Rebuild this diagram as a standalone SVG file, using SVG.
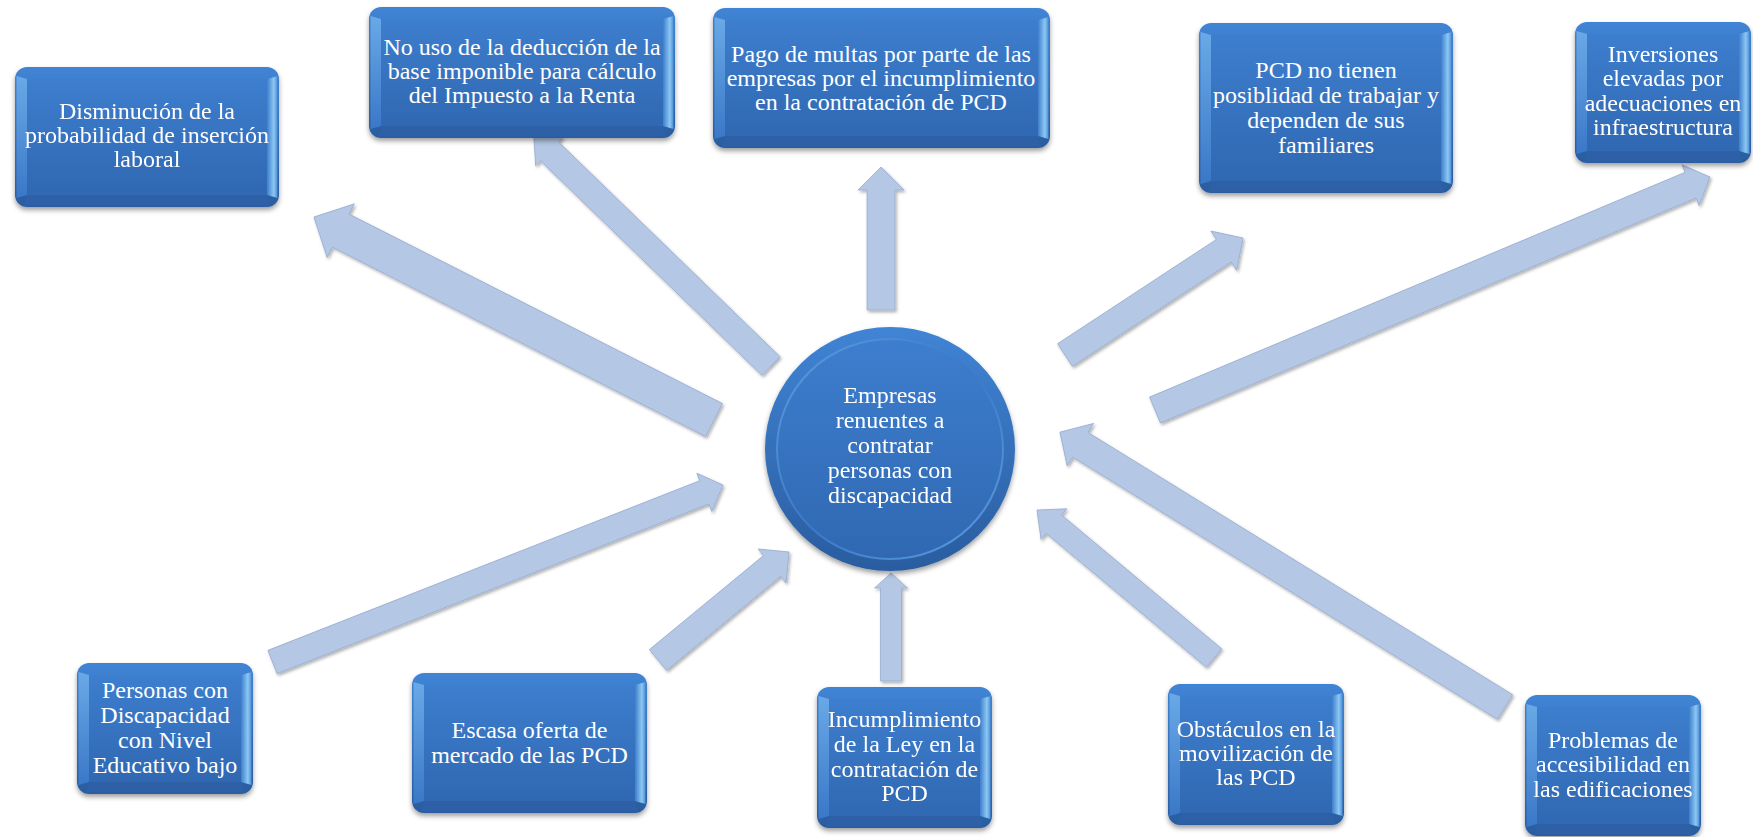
<svg xmlns="http://www.w3.org/2000/svg" width="1753" height="837" viewBox="0 0 1753 837">
<defs>
<linearGradient id="gOut" x1="0" y1="0" x2="0" y2="1"><stop offset="0" stop-color="#4084d5"/><stop offset="1" stop-color="#2a5c9f"/></linearGradient>
<linearGradient id="gIn" x1="0" y1="0" x2="0" y2="1"><stop offset="0" stop-color="#3d7ece"/><stop offset="1" stop-color="#3068b2"/></linearGradient>
<linearGradient id="gL" x1="0" y1="0" x2="0" y2="1"><stop offset="0" stop-color="#6aa9e6"/><stop offset="1" stop-color="#3a78c8"/></linearGradient>
<linearGradient id="gR" x1="0" y1="0" x2="1" y2="0"><stop offset="0" stop-color="#3e7ece"/><stop offset="0.65" stop-color="#8cc8f2"/><stop offset="1" stop-color="#4d8dd7"/></linearGradient>
<linearGradient id="gRing" x1="0" y1="0" x2="1" y2="1"><stop offset="0" stop-color="#5f9de0"/><stop offset="0.5" stop-color="#3a78c8"/><stop offset="1" stop-color="#5f9ee0"/></linearGradient>
<filter id="bshadow" x="-10%" y="-10%" width="120%" height="130%"><feDropShadow dx="0" dy="3" stdDeviation="2.5" flood-color="#000" flood-opacity="0.38"/></filter>
<filter id="ashadow" x="-5%" y="-5%" width="110%" height="110%"><feDropShadow dx="1.5" dy="2" stdDeviation="1.5" flood-color="#000" flood-opacity="0.3"/></filter>
</defs>
<style>
.arr{fill:#b4c7e4;stroke:#98add2;stroke-width:0.8;stroke-linejoin:miter}
.bx{fill:url(#gOut)}
.bl{fill:url(#gL)}
.br{fill:url(#gR)}
.bb{fill:#2d60a6}
.bi{fill:url(#gIn)}
.t{font-family:"Liberation Serif","Times New Roman",serif;font-size:24px;fill:#ffffff;text-anchor:middle}
</style>
<rect width="1753" height="837" fill="#ffffff"/>

<g id="connectors" filter="url(#ashadow)">
<path class="arr" transform="translate(714,420) rotate(206.9)" d="M0,-18.5 L418.6,-18.5 L418.6,-30 L448.6,0 L418.6,30 L418.6,18.5 L0,18.5 Z"/>
<path class="arr" transform="translate(771,366) rotate(224.1)" d="M0,-13 L308.3,-13 L308.3,-20 L330.3,0 L308.3,20 L308.3,13 L0,13 Z"/>
<path class="arr" transform="translate(881,310) rotate(-90)" d="M0,-14 L120,-14 L120,-23 L143,0 L120,23 L120,14 L0,14 Z"/>
<path class="arr" transform="translate(1065,355) rotate(-33.3)" d="M0,-13.5 L190,-13.5 L190,-23.5 L213,0 L190,23.5 L190,13.5 L0,13.5 Z"/>
<path class="arr" transform="translate(1155,410) rotate(-22.77)" d="M0,-14 L580.9,-14 L580.9,-22 L601.9,0 L580.9,22 L580.9,14 L0,14 Z"/>
<path class="arr" transform="translate(272.5,662) rotate(-21.45)" d="M0,-12.5 L464,-12.5 L464,-20.5 L484,0 L464,20.5 L464,12.5 L0,12.5 Z"/>
<path class="arr" transform="translate(658,660) rotate(-39.5)" d="M0,-13.5 L147.8,-13.5 L147.8,-22 L169.8,0 L147.8,22 L147.8,13.5 L0,13.5 Z"/>
<path class="arr" transform="translate(891,681) rotate(-90)" d="M0,-10.5 L93,-10.5 L93,-16.5 L108,0 L93,16.5 L93,10.5 L0,10.5 Z"/>
<path class="arr" transform="translate(1214,658) rotate(219.9)" d="M0,-12 L208.7,-12 L208.7,-20 L230.7,0 L208.7,20 L208.7,12 L0,12 Z"/>
<path class="arr" transform="translate(1505,707) rotate(211.7)" d="M0,-14.5 L499.1,-14.5 L499.1,-25 L523.1,0 L499.1,25 L499.1,14.5 L0,14.5 Z"/>
</g>

<g id="node-center">
<ellipse cx="890" cy="449" rx="125" ry="122" fill="url(#gOut)" filter="url(#bshadow)"/>
<ellipse cx="890" cy="449" rx="113" ry="110" fill="url(#gIn)" stroke="url(#gRing)" stroke-width="2"/>
<text class="t" x="890" y="403">Empresas</text>
<text class="t" x="890" y="428">renuentes a</text>
<text class="t" x="890" y="453">contratar</text>
<text class="t" x="890" y="478">personas con</text>
<text class="t" x="890" y="503">discapacidad</text>
</g>

<g id="node-disminucion">
<rect class="bx" x="15" y="67" width="264" height="140" rx="12" filter="url(#bshadow)"/>
<path class="bl" d="M16.5,76 L27,79 L27,195 L16.5,198 Z"/>
<path class="br" d="M277.5,76 L267,79 L267,195 L277.5,198 Z"/>
<path class="bb" d="M24,205.5 L27,195 L267,195 L270,205.5 Z"/>
<rect class="bi" x="27" y="79" width="240" height="116"/>
<text class="t" x="147" y="119">Disminución de la</text>
<text class="t" x="147" y="143">probabilidad de inserción</text>
<text class="t" x="147" y="167">laboral</text>
</g>

<g id="node-nouso">
<rect class="bx" x="369" y="7" width="306" height="131" rx="12" filter="url(#bshadow)"/>
<path class="bl" d="M370.5,16 L381,19 L381,126 L370.5,129 Z"/>
<path class="br" d="M673.5,16 L663,19 L663,126 L673.5,129 Z"/>
<path class="bb" d="M378,136.5 L381,126 L663,126 L666,136.5 Z"/>
<rect class="bi" x="381" y="19" width="282" height="107"/>
<text class="t" x="522" y="55">No uso de la deducción de la</text>
<text class="t" x="522" y="79">base imponible para cálculo</text>
<text class="t" x="522" y="103">del Impuesto a la Renta</text>
</g>

<g id="node-pago">
<rect class="bx" x="713" y="8" width="337" height="140" rx="12" filter="url(#bshadow)"/>
<path class="bl" d="M714.5,17 L725,20 L725,136 L714.5,139 Z"/>
<path class="br" d="M1048.5,17 L1038,20 L1038,136 L1048.5,139 Z"/>
<path class="bb" d="M722,146.5 L725,136 L1038,136 L1041,146.5 Z"/>
<rect class="bi" x="725" y="20" width="313" height="116"/>
<text class="t" x="881" y="62">Pago de multas por parte de las</text>
<text class="t" x="881" y="86">empresas por el incumplimiento</text>
<text class="t" x="881" y="110">en la contratación de PCD</text>
</g>

<g id="node-pcd">
<rect class="bx" x="1199" y="23" width="254" height="170" rx="12" filter="url(#bshadow)"/>
<path class="bl" d="M1200.5,32 L1211,35 L1211,181 L1200.5,184 Z"/>
<path class="br" d="M1451.5,32 L1441,35 L1441,181 L1451.5,184 Z"/>
<path class="bb" d="M1208,191.5 L1211,181 L1441,181 L1444,191.5 Z"/>
<rect class="bi" x="1211" y="35" width="230" height="146"/>
<text class="t" x="1326" y="78">PCD no tienen</text>
<text class="t" x="1326" y="103">posiblidad de trabajar y</text>
<text class="t" x="1326" y="128">dependen de sus</text>
<text class="t" x="1326" y="153">familiares</text>
</g>

<g id="node-inversiones">
<rect class="bx" x="1575" y="22" width="176" height="141" rx="12" filter="url(#bshadow)"/>
<path class="bl" d="M1576.5,31 L1587,34 L1587,151 L1576.5,154 Z"/>
<path class="br" d="M1749.5,31 L1739,34 L1739,151 L1749.5,154 Z"/>
<path class="bb" d="M1584,161.5 L1587,151 L1739,151 L1742,161.5 Z"/>
<rect class="bi" x="1587" y="34" width="152" height="117"/>
<text class="t" x="1663" y="62">Inversiones</text>
<text class="t" x="1663" y="86">elevadas por</text>
<text class="t" x="1663" y="111">adecuaciones en</text>
<text class="t" x="1663" y="135">infraestructura</text>
</g>

<g id="node-personas">
<rect class="bx" x="77" y="663" width="176" height="131" rx="12" filter="url(#bshadow)"/>
<path class="bl" d="M78.5,672 L89,675 L89,782 L78.5,785 Z"/>
<path class="br" d="M251.5,672 L241,675 L241,782 L251.5,785 Z"/>
<path class="bb" d="M86,792.5 L89,782 L241,782 L244,792.5 Z"/>
<rect class="bi" x="89" y="675" width="152" height="107"/>
<text class="t" x="165" y="698">Personas con</text>
<text class="t" x="165" y="723">Discapacidad</text>
<text class="t" x="165" y="748">con Nivel</text>
<text class="t" x="165" y="773">Educativo bajo</text>
</g>

<g id="node-escasa">
<rect class="bx" x="412" y="673" width="235" height="140" rx="12" filter="url(#bshadow)"/>
<path class="bl" d="M413.5,682 L424,685 L424,801 L413.5,804 Z"/>
<path class="br" d="M645.5,682 L635,685 L635,801 L645.5,804 Z"/>
<path class="bb" d="M421,811.5 L424,801 L635,801 L638,811.5 Z"/>
<rect class="bi" x="424" y="685" width="211" height="116"/>
<text class="t" x="529.5" y="738">Escasa oferta de</text>
<text class="t" x="529.5" y="763">mercado de las PCD</text>
</g>

<g id="node-incumplimiento">
<rect class="bx" x="817" y="687" width="175" height="141" rx="12" filter="url(#bshadow)"/>
<path class="bl" d="M818.5,696 L829,699 L829,816 L818.5,819 Z"/>
<path class="br" d="M990.5,696 L980,699 L980,816 L990.5,819 Z"/>
<path class="bb" d="M826,826.5 L829,816 L980,816 L983,826.5 Z"/>
<rect class="bi" x="829" y="699" width="151" height="117"/>
<text class="t" x="904.5" y="727">Incumplimiento</text>
<text class="t" x="904.5" y="752">de la Ley en la</text>
<text class="t" x="904.5" y="777">contratación de</text>
<text class="t" x="904.5" y="801">PCD</text>
</g>

<g id="node-obstaculos">
<rect class="bx" x="1168" y="684" width="176" height="141" rx="12" filter="url(#bshadow)"/>
<path class="bl" d="M1169.5,693 L1180,696 L1180,813 L1169.5,816 Z"/>
<path class="br" d="M1342.5,693 L1332,696 L1332,813 L1342.5,816 Z"/>
<path class="bb" d="M1177,823.5 L1180,813 L1332,813 L1335,823.5 Z"/>
<rect class="bi" x="1180" y="696" width="152" height="117"/>
<text class="t" x="1256" y="737">Obstáculos en la</text>
<text class="t" x="1256" y="761">movilización de</text>
<text class="t" x="1256" y="785">las PCD</text>
</g>

<g id="node-problemas">
<rect class="bx" x="1525" y="695" width="176" height="141" rx="12" filter="url(#bshadow)"/>
<path class="bl" d="M1526.5,704 L1537,707 L1537,824 L1526.5,827 Z"/>
<path class="br" d="M1699.5,704 L1689,707 L1689,824 L1699.5,827 Z"/>
<path class="bb" d="M1534,834.5 L1537,824 L1689,824 L1692,834.5 Z"/>
<rect class="bi" x="1537" y="707" width="152" height="117"/>
<text class="t" x="1613" y="748">Problemas de</text>
<text class="t" x="1613" y="772">accesibilidad en</text>
<text class="t" x="1613" y="797">las edificaciones</text>
</g>
</svg>
